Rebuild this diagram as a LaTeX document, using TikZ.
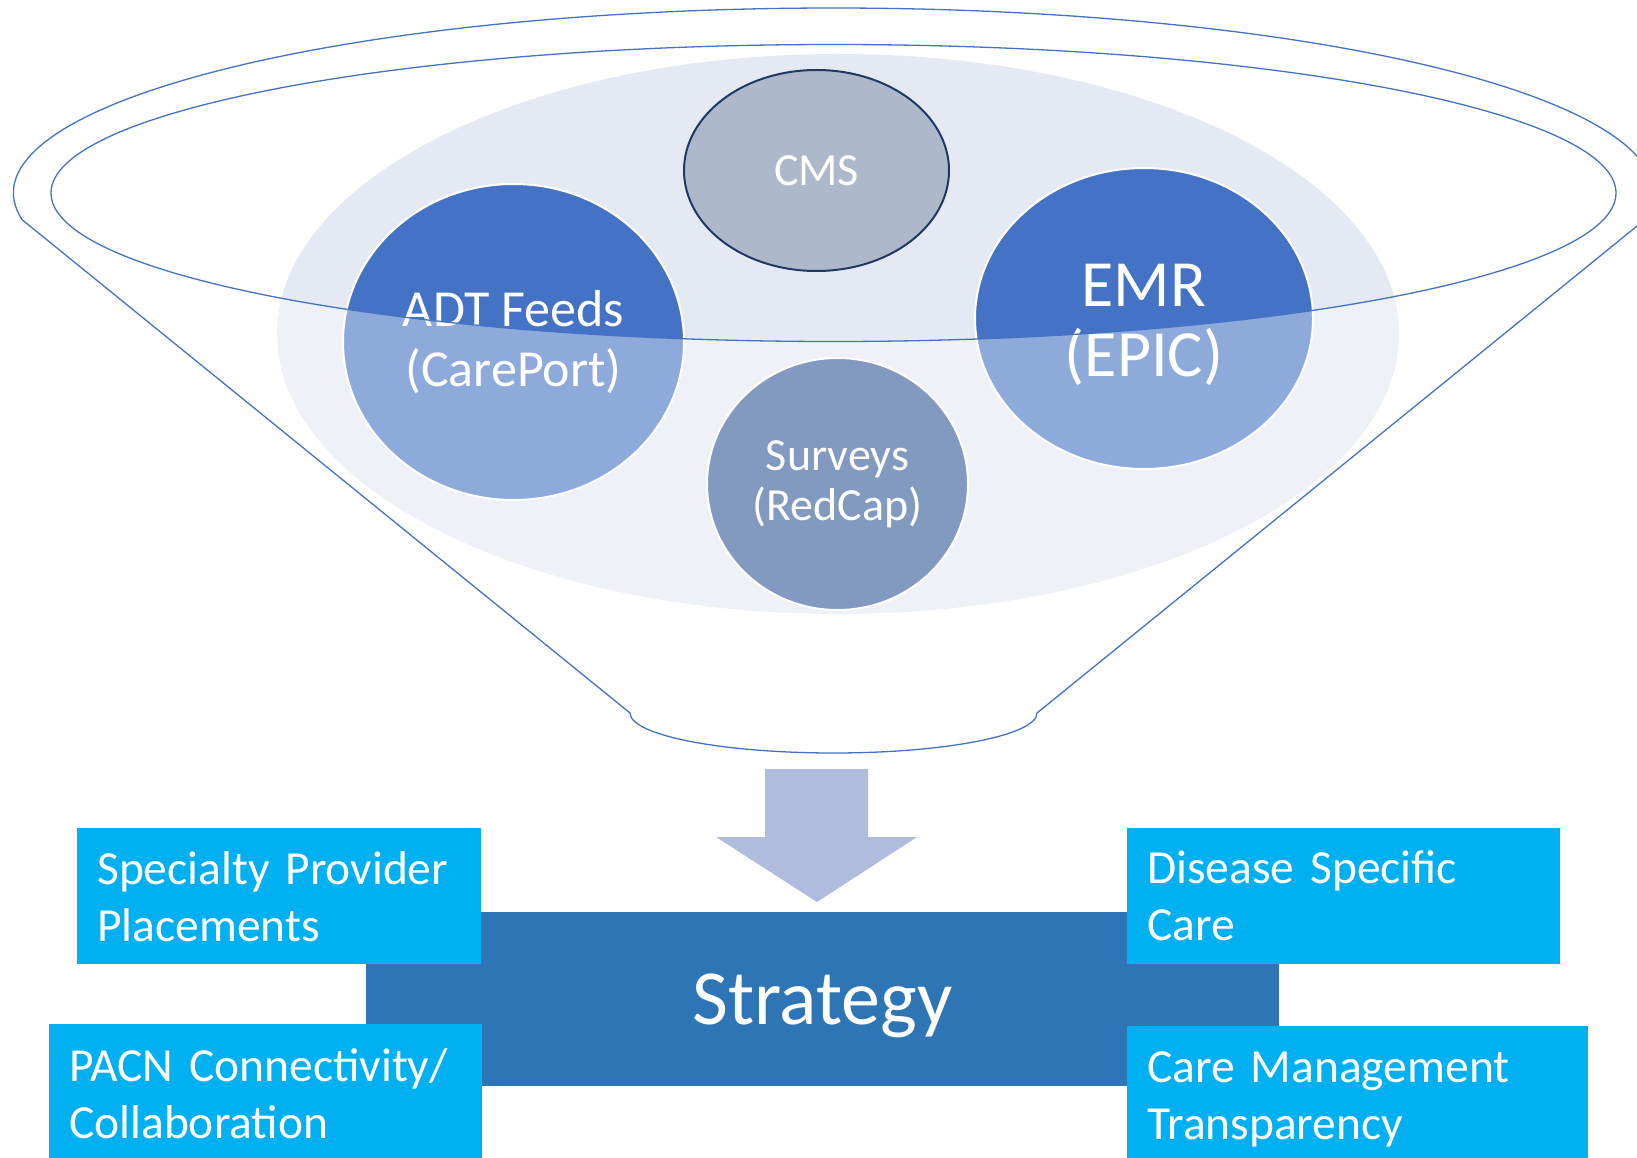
\documentclass[tikz,border=0pt]{standalone}
\usepackage{fontspec}
\setmainfont{Carlito}
\usetikzlibrary{shapes.geometric}
\definecolor{paleblue}{HTML}{E4E9F4}
\definecolor{accent}{HTML}{4472C4}
\definecolor{darkaccent}{HTML}{2F5597}
\definecolor{cmsfill}{HTML}{ADB9CA}
\definecolor{cmsline}{HTML}{1F3864}
\definecolor{arrowfill}{HTML}{AFBCDE}
\definecolor{boxblue}{HTML}{00B0F0}
\definecolor{stratblue}{HTML}{2E75B6}
\tikzset{
  bubble/.style={ellipse, inner sep=0pt, draw=white, line width=2pt, text=white, align=center},
  funnelline/.style={draw=accent, line width=1.3pt},
  sidebox/.style={rectangle, fill=boxblue, text=white, align=left, inner xsep=20pt, inner ysep=0pt,
    minimum height=136pt, anchor=north west, font=\fontsize{47.5}{57}\selectfont},
}
\begin{document}
\begin{tikzpicture}[x=1pt,y=-1pt]
\useasboundingbox (0,0) rectangle (1637,1158);
% background pale ellipse
\fill[paleblue] (838,334) ellipse [x radius=561pt, y radius=280pt];
% bubbles
\node[bubble, fill=accent, minimum width=341pt, minimum height=316pt,
  font=\fontsize{52}{60}\selectfont] (adt) at (513.5,342) {ADT Feeds\\(CarePort)};
\node[bubble, fill=accent, minimum width=338pt, minimum height=301pt,
  font=\fontsize{66}{70}\selectfont] (emr) at (1144,318.5) {\rule{0pt}{56pt}EMR\\(EPIC)};
\node[bubble, fill=cmsfill, draw=cmsline, minimum width=265pt, minimum height=201pt,
  font=\fontsize{46}{50}\selectfont] (cms) at (816.5,170.5) {CMS};
\node[bubble, fill=darkaccent, minimum width=261pt, minimum height=252pt,
  font=\fontsize{46}{50}\selectfont] (surveys) at (837.5,484) {Surveys\\(RedCap)};
% funnel translucent body
\fill[white, fill opacity=0.4, even odd rule]
  (22.1,219.7) arc[start angle=188.3, end angle=-8.3, x radius=820pt, y radius=185pt]
  -- (1037,713) arc[start angle=0, end angle=-180, x radius=203.5pt, y radius=40pt]
  -- cycle
  (833.5,193) ellipse [x radius=782.5pt, y radius=148.5pt];
% funnel outline
\draw[funnelline]
  (22.1,219.7) arc[start angle=188.3, end angle=-8.3, x radius=820pt, y radius=185pt]
  -- (1037,713) arc[start angle=0, end angle=-180, x radius=203.5pt, y radius=40pt]
  -- cycle;
\draw[funnelline] (833.5,193) ellipse [x radius=782.5pt, y radius=148.5pt];
% down arrow
\fill[arrowfill] (765,769) -- (868,769) -- (868,837) -- (917,837) -- (817,902)
  -- (716,837) -- (765,837) -- cycle;
% strategy bar
\node[rectangle, fill=stratblue, text=white, minimum width=913pt, minimum height=174pt,
  inner sep=0pt, text depth=0pt, font=\fontsize{78}{80}\selectfont] (strategy) at (822.5,999) {Strategy};
% side boxes
\node[sidebox, text width=364pt] (specialty) at (77,828) {Specialty Provider\\Placements};
\node[sidebox, text width=393pt, minimum height=138pt] (pacn) at (49,1024) {PACN Connectivity/\\Collaboration};
\node[sidebox, text width=393pt] (disease) at (1127,828) {Disease Specific\\Care};
\node[sidebox, text width=421pt, minimum height=146pt] (caremgmt) at (1127,1026) {Care Management\\Transparency};
\end{tikzpicture}
\end{document}
